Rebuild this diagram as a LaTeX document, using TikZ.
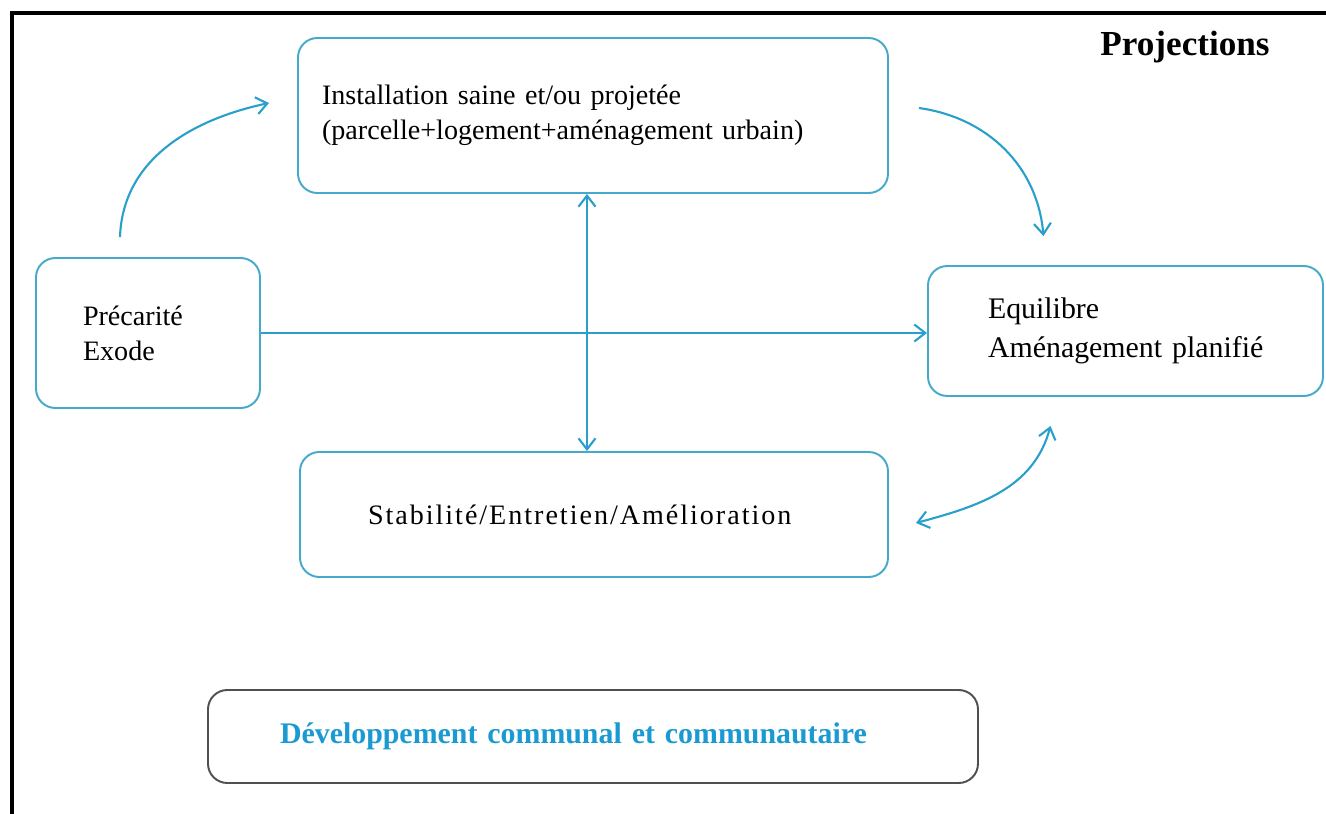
\documentclass[tikz,border=0pt]{standalone}
\usepackage{fontspec}
\setmainfont{Liberation Serif}
\usetikzlibrary{arrows.meta}
\definecolor{cbleu}{HTML}{45A9CB}
\definecolor{cfleche}{HTML}{2A9FCB}
\definecolor{ctexte}{HTML}{1B9AD2}
\definecolor{cgris}{HTML}{505050}
\tikzset{
  every picture/.style={line width=1.1pt},
  bloc/.style={draw=#1, rounded corners=11pt, align=left, inner ysep=0pt, font=\fontsize{16}{20}\selectfont},
  bloc/.default=cbleu,
  fleche/.style={-{Straight Barb[length=2.2mm, width=3.4mm]}, draw=cfleche, line width=1.2pt},
  doublefleche/.style={{Straight Barb[length=2.2mm, width=3.4mm]}-{Straight Barb[length=2.2mm, width=3.4mm]}, draw=cfleche, line width=1.2pt},
  titre/.style={font=\fontsize{20}{24}\selectfont\bfseries},
}

\begin{document}
\begin{tikzpicture}
  \useasboundingbox (0,0) rectangle (26.52,-16.28);
  \draw[black, line width=1.9pt] (0.24,-17) -- (0.24,-0.26) -- (27,-0.26);
  \node[titre] (proj) at (23.7,-0.94) {Projections};

  \node[bloc, minimum width=11.8cm, minimum height=3.1cm, text width=10.84cm, inner xsep=0.48cm] (inst) at (11.86,-2.31)
    {Installation saine et/ou projetée\\(parcelle+logement+aménagement urbain)};
  \node[bloc, minimum height=3cm, text width=2.6cm, inner xsep=0.94cm] (prec) at (2.96,-6.66)
    {Précarité\\Exode};
  \node[bloc, minimum width=7.9cm, minimum height=2.6cm, text width=5.5cm, inner xsep=0.4cm, font=\fontsize{17}{22}\selectfont] (equi) at (22.51,-6.62)
    {Equilibre\\\mbox{Aménagement planifié}};
  \node[bloc, minimum height=2.5cm, text width=9.04cm, inner xsep=1.36cm, font=\fontsize{16}{20}\selectfont\addfontfeature{LetterSpace=7}] (stab) at (11.88,-10.29)
    {Stabilité/Entretien/Amélioration};
  \node[bloc=cgris, minimum height=1.86cm, text width=12.52cm, inner xsep=1.44cm, text=ctexte, font=\fontsize{17}{20}\selectfont\bfseries] (dev) at (11.86,-14.73)
    {Développement communal et communautaire};

  \coordinate (carrefour) at (11.74,-6.64);
  \draw[fleche] (prec.east) -- (prec.east -| equi.west);
  \draw[doublefleche] (carrefour |- inst.south) -- (carrefour |- stab.north);
  \draw[fleche] ([xshift=-0.56cm, yshift=0.4cm]prec.north) to[out=88, in=192] ([xshift=-0.56cm, yshift=0.25cm]inst.west);
  \draw[fleche] ([xshift=0.6cm, yshift=0.15cm]inst.east) to[out=-8, in=95] ([xshift=-1.64cm, yshift=0.58cm]equi.north);
  \draw[doublefleche] ([xshift=-1.5cm, yshift=-0.58cm]equi.south) to[out=-105, in=15] ([xshift=0.54cm, yshift=-0.17cm]stab.east);
\end{tikzpicture}
\end{document}
